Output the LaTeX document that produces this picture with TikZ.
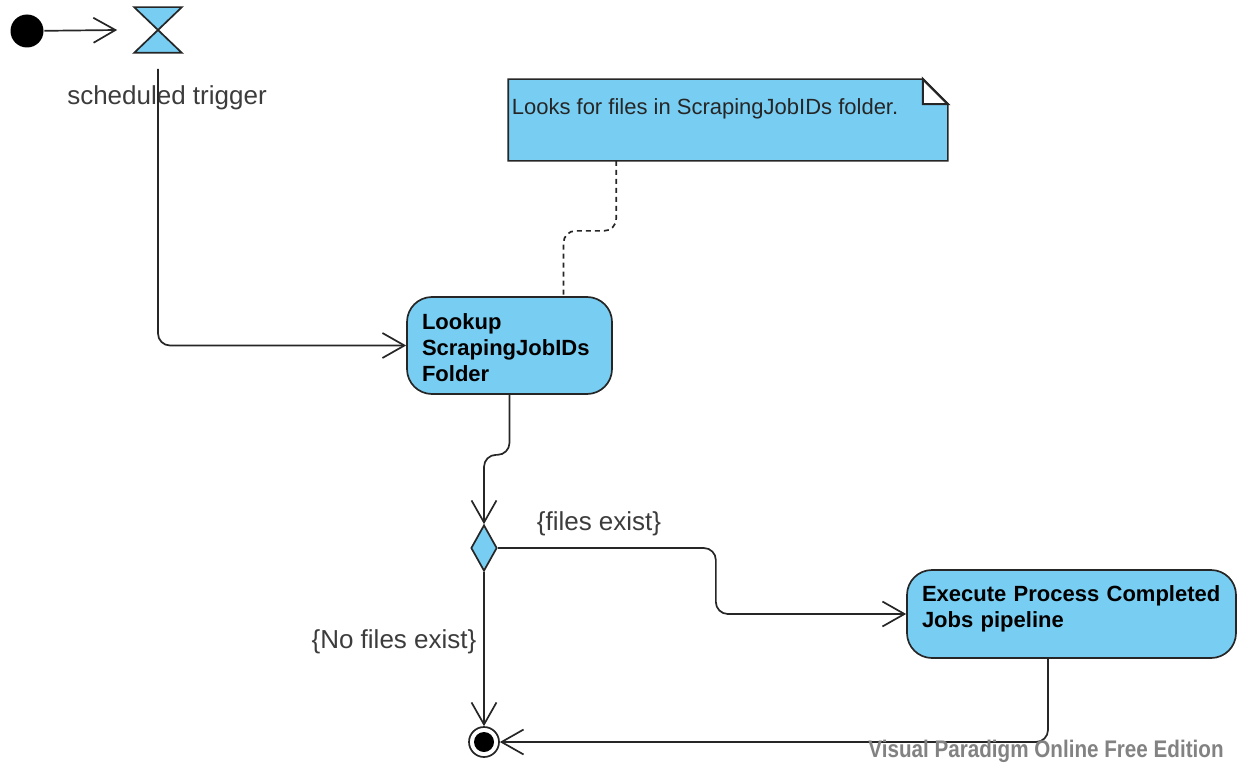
\documentclass[tikz,border=0pt]{standalone}
\usepackage{fontspec}
\setmainfont{Liberation Sans}
\usetikzlibrary{arrows.meta,shapes.geometric}
\definecolor{actblue}{RGB}{120,205,242}
\definecolor{labelgray}{RGB}{60,60,60}
\definecolor{markgray}{RGB}{130,130,130}
\begin{document}
\begin{tikzpicture}[x=1pt,y=-1pt,
  line width=1.7pt,
  flow/.style={draw=black!85, line width=1.7pt, rounded corners=12pt,
    -{Straight Barb[length=22pt,width=25pt,line width=1.7pt]}},
  action/.style={draw=black!85, fill=actblue, rectangle, rounded corners=25pt,
    align=left, inner xsep=15pt, inner ysep=0pt,
    font=\fontsize{22}{26}\selectfont\bfseries},
  guard/.style={text=labelgray, font=\fontsize{26}{30}\selectfont, inner sep=0pt},
  notetext/.style={text=black!85, font=\fontsize{22}{26}\selectfont, inner sep=0pt, anchor=west}]
\useasboundingbox (0,0) rectangle (1239,765);

% start node and time event
\node[circle, fill=black, minimum size=33pt, inner sep=0pt] (init) at (27,31) {};
\node[minimum width=46pt, minimum height=44pt, inner sep=0pt] (timer) at (158,30) {};
\draw[draw=black!85, fill=actblue, line join=miter]
  (timer.north west) -- (timer.north east) -- (timer.south west) -- (timer.south east) -- cycle;
\node[guard] (trigLabel) at (167,98) {scheduled trigger};

% comment note
\node[minimum width=438pt, minimum height=80pt, inner sep=0pt] (note) at (728,120) {};
\draw[draw=black!85, fill=actblue, line join=miter]
  (note.south west) -- (note.north west) -- ([xshift=-25pt]note.north east)
  -- ([yshift=-25pt]note.north east) -- (note.south east) -- cycle;
\draw[draw=black!85, fill=white, line join=miter, line width=2.2pt]
  ([xshift=-25pt]note.north east) -- ([xshift=-25pt,yshift=-25pt]note.north east)
  -- ([yshift=-25pt]note.north east) -- cycle;
\node[notetext] (noteText) at (511,109) {Looks for files in ScrapingJobIDs folder.};

% actions
\node[action, minimum width=205pt, minimum height=97pt, text width=175pt] (lookup) at (509.5,345.5)
  {Lookup\\ScrapingJobIDs\\Folder\\[-30pt]\mbox{}};
\node[action, minimum width=329pt, minimum height=88pt, text width=299pt] (exec) at (1071.5,614)
  {Execute Process Completed\\Jobs pipeline\\[-12pt]\mbox{}};

% decision and final node
\node[diamond, draw=black!85, fill=actblue, minimum width=26pt, minimum height=46pt,
  inner sep=0pt] (dec) at (484,548) {};
\node[circle, draw=black!85, fill=white, minimum size=30pt, inner sep=0pt] (final) at (484,742) {};
\fill (final.center) circle (10pt);

% flows
\draw[flow] (init) -- ([xshift=-17pt]timer.west);
\draw[flow] ([yshift=-16pt]timer.south) |- (lookup.west);
\draw[draw=black!85, dashed, dash pattern=on 5pt off 4pt, rounded corners=12pt]
  ([xshift=108pt]note.south west) -- ++(0,70) -| ([xshift=54pt]lookup.north);
\draw[flow] (lookup.south) -- ++(0,60) -| (dec.north);
\draw[flow] (dec.east) -- ++(218,0) |- (exec.west);
\node[guard] (yesLabel) at (599,524) {\{files exist\}};
\draw[flow] (dec.south) -- (final.north);
\node[guard] (noLabel) at (394,642) {\{No files exist\}};
\draw[flow] ([xshift=-23.5pt]exec.south) |- (final.east);

% edition mark
\node[text=markgray, inner sep=0pt, font=\fontsize{24}{28}\selectfont\bfseries] (mark) at (1046,751)
  {\scalebox{0.86}[1]{Visual Paradigm Online Free Edition}};
\end{tikzpicture}
\end{document}
